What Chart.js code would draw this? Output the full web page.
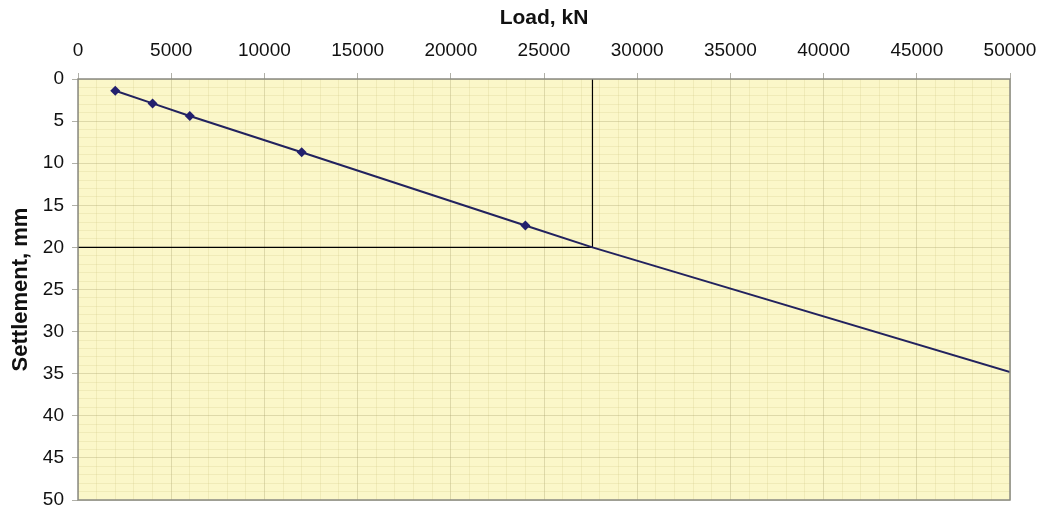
<!DOCTYPE html>
<html>
<head>
<meta charset="utf-8">
<script src="https://cdn.jsdelivr.net/npm/chart.js@4"></script>
<style>
    body { margin: 0; background: #ffffff; }
    canvas { display: block; }
</style>
</head>
<body>
<canvas id="loadChart" width="1041" height="511"></canvas>
<script>
// measured points
const loads = [2000, 4000, 6000, 12000, 24000];
const settlements = [1.4, 2.9, 4.4, 8.7, 17.4];

// extrapolated line beyond last test point
const extLoads = [24000, 27600, 50000];
const extSettlements = [17.4, 20, 34.8];

// 20 mm settlement construction lines
const vLineLoads = [27600, 27600];
const vLineSettlements = [0, 20];
const hLineLoads = [0, 27600];
const hLineSettlements = [20, 20];

const xTitle = 'Load, kN';
const yTitle = 'Settlement, mm';

function toPoints(xs, ys) {
    return xs.map((x, i) => ({ x: x, y: ys[i] }));
}

const plotBackground = {
    id: 'plotBackground',
    beforeDraw(chart) {
        const { ctx, chartArea } = chart;
        ctx.save();
        ctx.fillStyle = '#fbf7c9';
        ctx.fillRect(chartArea.left, chartArea.top, chartArea.right - chartArea.left, chartArea.bottom - chartArea.top);
        ctx.restore();
    },
    afterDraw(chart) {
        const { ctx, chartArea } = chart;
        ctx.save();
        ctx.strokeStyle = '#8a8a82';
        ctx.lineWidth = 1.5;
        ctx.strokeRect(chartArea.left, chartArea.top, chartArea.right - chartArea.left, chartArea.bottom - chartArea.top);
        ctx.restore();
    }
};

const majorGrid = 'rgba(170,160,110,0.35)';
const minorGrid = 'rgba(200,190,120,0.2)';

const ctx = document.getElementById('loadChart').getContext('2d');
const loadChart = new Chart(ctx, {
    type: 'scatter',
    data: {
        datasets: [
            {
                label: 'Measured',
                data: toPoints(loads, settlements),
                showLine: true,
                borderColor: '#22225e',
                borderWidth: 2,
                backgroundColor: '#23206e',
                pointStyle: 'rectRot',
                pointRadius: 5,
                pointBorderWidth: 0
            },
            {
                label: 'Extrapolated',
                data: toPoints(extLoads, extSettlements),
                showLine: true,
                borderColor: '#22225e',
                borderWidth: 2,
                pointRadius: 0
            },
            {
                label: 'Vertical',
                data: toPoints(vLineLoads, vLineSettlements),
                showLine: true,
                borderColor: '#000000',
                borderWidth: 1.2,
                pointRadius: 0
            },
            {
                label: 'Horizontal',
                data: toPoints(hLineLoads, hLineSettlements),
                showLine: true,
                borderColor: '#000000',
                borderWidth: 1.2,
                pointRadius: 0
            }
        ]
    },
    options: {
        responsive: false,
        animation: false,
        devicePixelRatio: 1,
        layout: { padding: { left: 0, right: 31, top: 0, bottom: 11 } },
        plugins: {
            legend: { display: false },
            tooltip: { enabled: false }
        },
        scales: {
            x: {
                type: 'linear',
                position: 'top',
                min: 0,
                max: 50000,
                afterFit: function(scale) {
                    scale.height = 79;
                    scale.paddingLeft = 0;
                    scale.paddingRight = 0;
                },
                ticks: {
                    stepSize: 1000,
                    autoSkip: false,
                    maxRotation: 0,
                    color: '#111111',
                    padding: 11,
                    font: { family: 'Liberation Sans, Arial', size: 19 },
                    callback: function(value) {
                        return value % 5000 === 0 ? value : '';
                    }
                },
                grid: {
                    color: c => c.tick && c.tick.value % 5000 === 0 ? majorGrid : minorGrid,
                    tickColor: c => c.tick && c.tick.value % 5000 === 0 ? '#b0b0a8' : 'rgba(0,0,0,0)',
                    tickLength: 6,
                    lineWidth: 1
                },
                border: { display: false },
                title: {
                    display: true,
                    text: xTitle,
                    color: '#111111',
                    font: { family: 'Liberation Sans, Arial', size: 21, weight: 'bold' },
                    padding: { top: 6, bottom: 0 }
                }
            },
            y: {
                type: 'linear',
                reverse: true,
                min: 0,
                max: 50,
                afterFit: function(scale) {
                    scale.width = 78;
                    scale.paddingTop = 0;
                    scale.paddingBottom = 0;
                },
                ticks: {
                    stepSize: 1,
                    autoSkip: false,
                    color: '#111111',
                    padding: 8,
                    font: { family: 'Liberation Sans, Arial', size: 19 },
                    callback: function(value) {
                        return value % 5 === 0 ? value : '';
                    }
                },
                grid: {
                    color: c => c.tick && c.tick.value % 5 === 0 ? majorGrid : minorGrid,
                    tickColor: c => c.tick && c.tick.value % 5 === 0 ? '#b0b0a8' : 'rgba(0,0,0,0)',
                    tickLength: 6,
                    lineWidth: 1
                },
                border: { display: false },
                title: {
                    display: true,
                    text: yTitle,
                    color: '#111111',
                    font: { family: 'Liberation Sans, Arial', size: 22, weight: 'bold' },
                    padding: { top: 8, bottom: 0 }
                }
            }
        }
    },
    plugins: [plotBackground]
});
</script>
</body>
</html>
